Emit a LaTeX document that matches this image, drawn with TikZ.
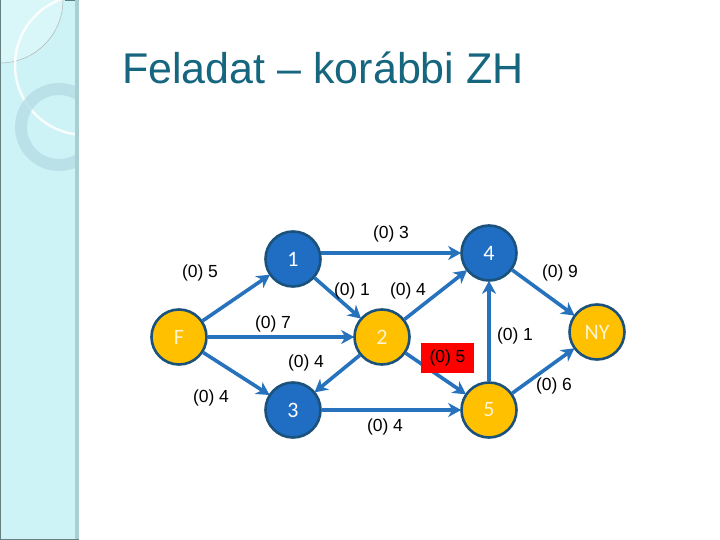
\documentclass[tikz,border=0pt]{standalone}
\usepackage{fontspec}
\setmainfont{Liberation Sans}
\newfontfamily\numfont{Carlito}
\usetikzlibrary{arrows.meta}
\definecolor{panel}{HTML}{CDF3F6}
\definecolor{panelborder}{HTML}{A9CFD3}
\definecolor{ringc}{HTML}{B3DCE3}
\definecolor{titlec}{HTML}{17667F}
\definecolor{nodeblue}{HTML}{1F6EC4}
\definecolor{nodeyellow}{HTML}{FFC000}
\definecolor{nodeborder}{HTML}{1B527C}
\definecolor{edgec}{HTML}{2672BD}
\definecolor{yellowtext}{HTML}{FFF4D0}
\begin{document}
\begin{tikzpicture}[x=1pt,y=-1pt,
  vtx/.style={circle,draw=nodeborder,line width=2.6pt,minimum size=55pt,inner sep=0pt,font=\numfont\fontsize{22}{22}\selectfont,text=white},
  bluev/.style={vtx,fill=nodeblue},
  yelv/.style={vtx,fill=nodeyellow,text=yellowtext},
  edge/.style={draw=edgec,line width=3.6pt,-{Stealth[length=13pt,width=14pt,inset=4pt]},shorten >=-1pt},
  lab/.style={font=\fontsize{17.5}{17.5}\selectfont,inner sep=1pt}]
\useasboundingbox (0,0) rectangle (720,540);
\fill[white] (0,0) rectangle (720,540);
% left panel
\begin{scope}
\clip (0,0) rectangle (76,540);
\fill[panel] (0,0) rectangle (76,540);
\fill[white,opacity=0.25] (0,0) circle (63);
\draw[gray!60,line width=0.5pt] (0,0) circle (63);
\draw[white,opacity=0.85,line width=2.5pt] (85,65) circle (70);
\draw[ringc,opacity=0.75,line width=12pt] (59,127) circle (38);
\end{scope}
\fill[panelborder] (75,0) rectangle (79,540);
\fill[gray!70!teal] (65,0) rectangle (75,1.5);
\draw[gray!80!teal,line width=1pt] (0.5,0) -- (0.5,540);
\draw[gray!80!teal,line width=1pt] (0,539.5) -- (79,539.5);
% title
\node[anchor=base west,text=titlec,font=\fontsize{43}{43}\selectfont,inner sep=0pt] (title) at (122,84) {Feladat – korábbi ZH};
% vertices
\node[yelv] (F) at (179,337) {F};
\node[bluev] (n1) at (293,259) {1};
\node[yelv] (n2) at (382,337) {2};
\node[bluev] (n3) at (293,410) {3};
\node[bluev] (n4) at (489,253) {4};
\node[yelv] (n5) at (489,410) {5};
\node[yelv] (NY) at (597,332) {NY};
% edges
\draw[edge] (F) -- (n1);
\draw[edge] (F) -- (n2);
\draw[edge] (F) -- (n3);
\draw[edge] (n1.12) -- (n4.west);
\draw[edge] (n1) -- (n2);
\draw[edge] (n2) -- (n4);
\draw[edge] (n2) -- (n3);
\draw[edge] (n2) -- (n5);
\draw[edge] (n3) -- (n5);
\draw[edge] (n5) -- (n4);
\draw[edge] (n4) -- (NY);
\draw[edge] (n5) -- (NY);
% labels
\node[lab] (l13) at (391,234) {(0) 3};
\node[lab] (lF1) at (200,273) {(0) 5};
\node[lab] (l12) at (352,291) {(0) 1};
\node[lab] (l24) at (408,291) {(0) 4};
\node[lab] (l4NY) at (560,273) {(0) 9};
\node[lab] (lF2) at (273,324) {(0) 7};
\node[lab] (l54) at (515,336) {(0) 1};
\node[lab] (l23) at (306,363) {(0) 4};
\node[lab,fill=red,minimum width=53pt,minimum height=30pt] (l25) at (447.5,357.5) {(0) 5};
\node[lab] (lF3) at (211,398) {(0) 4};
\node[lab] (l35) at (385,427) {(0) 4};
\node[lab] (l5NY) at (554,386) {(0) 6};
\end{tikzpicture}
\end{document}
